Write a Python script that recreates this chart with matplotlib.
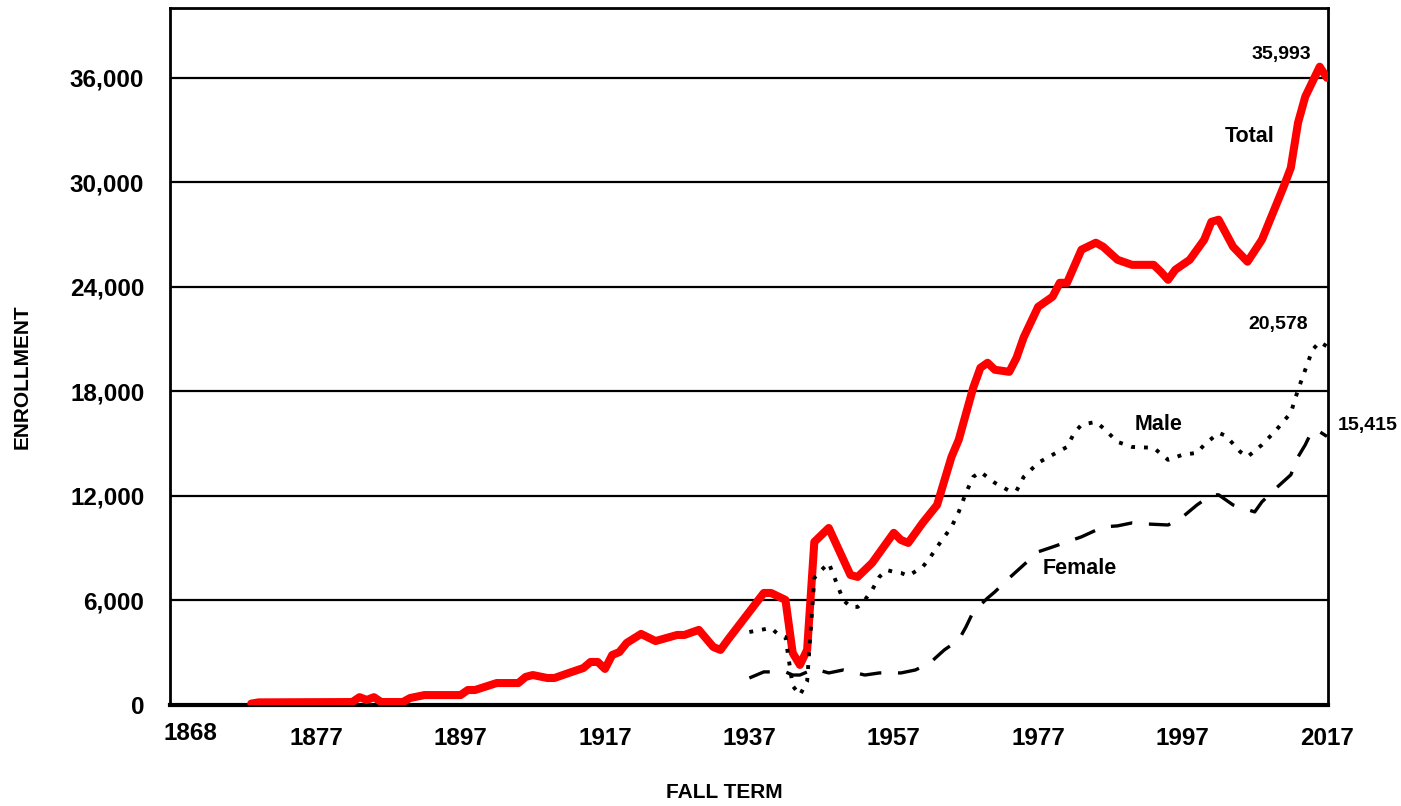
import matplotlib
matplotlib.use("Agg")
import matplotlib.pyplot as plt

# ---------------- data ----------------
total_years = [1868, 1869, 1882, 1883, 1884, 1885, 1886, 1889, 1890, 1892, 1897, 1898,
               1899, 1902, 1905, 1906, 1907, 1909, 1910, 1912, 1914, 1915, 1916, 1917,
               1918, 1919, 1920, 1922, 1924, 1927, 1928, 1930, 1932, 1933, 1934, 1939,
               1940, 1942, 1943, 1944, 1945, 1946, 1948, 1951, 1952, 1954, 1957, 1958,
               1959, 1961, 1963, 1965, 1966, 1968, 1969, 1970, 1971, 1973, 1974, 1975,
               1977, 1979, 1980, 1981, 1983, 1985, 1986, 1988, 1990, 1993, 1994, 1995,
               1996, 1998, 2000, 2001, 2002, 2004, 2006, 2008, 2011, 2012, 2013, 2014,
               2016, 2017]
total_values = [80, 150, 170, 450, 290, 450, 170, 170, 400, 570, 570, 860,
                860, 1260, 1260, 1610, 1720, 1550, 1550, 1840, 2120, 2470, 2470, 2070,
                2870, 3040, 3560, 4080, 3670, 4020, 4020, 4310, 3330, 3160, 3730, 6430,
                6430, 6030, 2990, 2300, 3160, 9360, 10160, 7460, 7350, 8150, 9880, 9470,
                9300, 10450, 11480, 14240, 15220, 18200, 19350, 19640, 19240, 19120, 19920, 21100,
                22850, 23430, 24230, 24230, 26130, 26530, 26300, 25550, 25260, 25260, 24860, 24400,
                24980, 25550, 26700, 27730, 27850, 26300, 25440, 26700, 29740, 30830, 33420, 34910,
                36630, 35993]

male_years = [1937, 1940, 1941, 1942, 1943, 1944, 1945, 1946, 1947, 1948, 1950, 1951,
              1952, 1953, 1954, 1955, 1956, 1957, 1958, 1959, 1961, 1962, 1963, 1965,
              1966, 1967, 1968, 1969, 1971, 1973, 1974, 1975, 1977, 1979, 1981, 1982,
              1983, 1985, 1986, 1988, 1990, 1993, 1995, 1997, 1999, 2000, 2002, 2003,
              2005, 2006, 2008, 2010, 2012, 2013, 2014, 2015, 2016, 2017]
male_values = [4190, 4420, 4050, 3900, 1100, 570, 1350, 7300, 7750, 8150, 6030, 5630,
               5630, 6030, 6600, 7350, 7750, 7640, 7580, 7410, 7920, 8440, 9070, 10220,
               11080, 12170, 13090, 13380, 12750, 12290, 12290, 13090, 13900, 14360, 14810, 15620,
               16080, 16250, 15900, 15100, 14810, 14760, 14070, 14360, 14470, 14930, 15620, 15450,
               14530, 14240, 14930, 15790, 16770, 18090, 19240, 20380, 20840, 20578]

female_years = [1937, 1939, 1942, 1943, 1944, 1946, 1948, 1950, 1953, 1955, 1958, 1960,
                1962, 1964, 1966, 1967, 1968, 1970, 1971, 1973, 1975, 1977, 1979, 1981,
                1983, 1986, 1988, 1990, 1992, 1995, 1997, 1999, 2001, 2002, 2004, 2007,
                2008, 2010, 2012, 2013, 2014, 2015, 2016, 2017]
female_values = [1550, 1900, 1900, 1720, 1720, 2070, 1840, 2010, 1720, 1840, 1840, 2010,
                 2410, 3160, 3730, 4480, 5340, 6140, 6490, 7290, 8040, 8790, 9070, 9360,
                 9650, 10220, 10280, 10450, 10390, 10330, 10790, 11480, 12060, 12060, 11480, 11080,
                 11660, 12460, 13210, 14240, 14930, 15790, 15680, 15415]

y_ticks = [0, 6000, 12000, 18000, 24000, 30000, 36000]
x_ticks = [1877, 1897, 1917, 1937, 1957, 1977, 1997, 2017]
first_label = "1868"

# ---------------- figure ----------------
FONT = "Liberation Sans"
plt.rcParams["font.family"] = [FONT, "DejaVu Sans"]
plt.rcParams["font.weight"] = "bold"

fig = plt.figure(figsize=(14.01, 8.06), dpi=100)
ax = fig.add_axes([170 / 1401, 101 / 806, 1158 / 1401, 697 / 806])

ax.plot(total_years, total_values, color="#FF0000", lw=5.8, solid_joinstyle="round",
        solid_capstyle="round", zorder=3)
ax.plot(male_years, male_values, color="black", lw=2.8, linestyle=(0, (1, 2.3)),
        dash_capstyle="butt", zorder=4)
ax.plot(female_years, female_values, color="black", lw=2.4, linestyle=(0, (6.5, 5)),
        zorder=4)

ax.set_xlim(1856.75, 2017.15)
ax.set_ylim(0, 40000)

TICK_FS = 17.5
ax.set_yticks(y_ticks)
ax.set_yticklabels([f"{v:,}" for v in y_ticks], fontsize=TICK_FS, fontweight="bold")
ax.set_xticks(x_ticks)
ax.set_xticklabels([str(v) for v in x_ticks], fontsize=TICK_FS, fontweight="bold")
ax.tick_params(axis="y", length=0, pad=18.5)
ax.tick_params(axis="x", length=0, pad=15.5)

ax.text(20 / 1158, -28 / 697, first_label, transform=ax.transAxes, ha="center",
        va="center", fontsize=TICK_FS, fontweight="bold")

ax.yaxis.grid(True, color="black", lw=1.6, zorder=1)
ax.set_axisbelow(True)
for side in ["left", "right", "top"]:
    ax.spines[side].set_linewidth(2.0)
ax.spines["bottom"].set_linewidth(3.0)

fig.text(22 / 1401, 1 - 377 / 806, "ENROLLMENT", rotation=90, ha="center", va="center",
         fontsize=15, fontweight="bold")
fig.text(724 / 1401, 1 - 792 / 806, "FALL TERM", ha="center", va="center",
         fontsize=15, fontweight="bold")

# end-value annotations
ax.annotate(f"{total_values[-1]:,}", xy=(total_years[-1], total_values[-1]),
            xytext=(-33, 16.5), textcoords="offset points", ha="center", va="center",
            fontsize=14, fontweight="bold", annotation_clip=False)
ax.annotate(f"{male_values[-1]:,}", xy=(male_years[-1], male_values[-1]),
            xytext=(-35, 16), textcoords="offset points", ha="center", va="center",
            fontsize=14, fontweight="bold", annotation_clip=False)
ax.annotate(f"{female_values[-1]:,}", xy=(female_years[-1], female_values[-1]),
            xytext=(29, 8), textcoords="offset points", ha="center", va="center",
            fontsize=14, fontweight="bold", annotation_clip=False)

ax.text(2006.3, 32600, "Total", ha="center", va="center", fontsize=15.5, fontweight="bold")
ax.text(1993.7, 16080, "Male", ha="center", va="center", fontsize=15.5, fontweight="bold")
ax.text(1982.7, 7810, "Female", ha="center", va="center", fontsize=15.5, fontweight="bold")

fig.savefig("out.png", dpi=100)
